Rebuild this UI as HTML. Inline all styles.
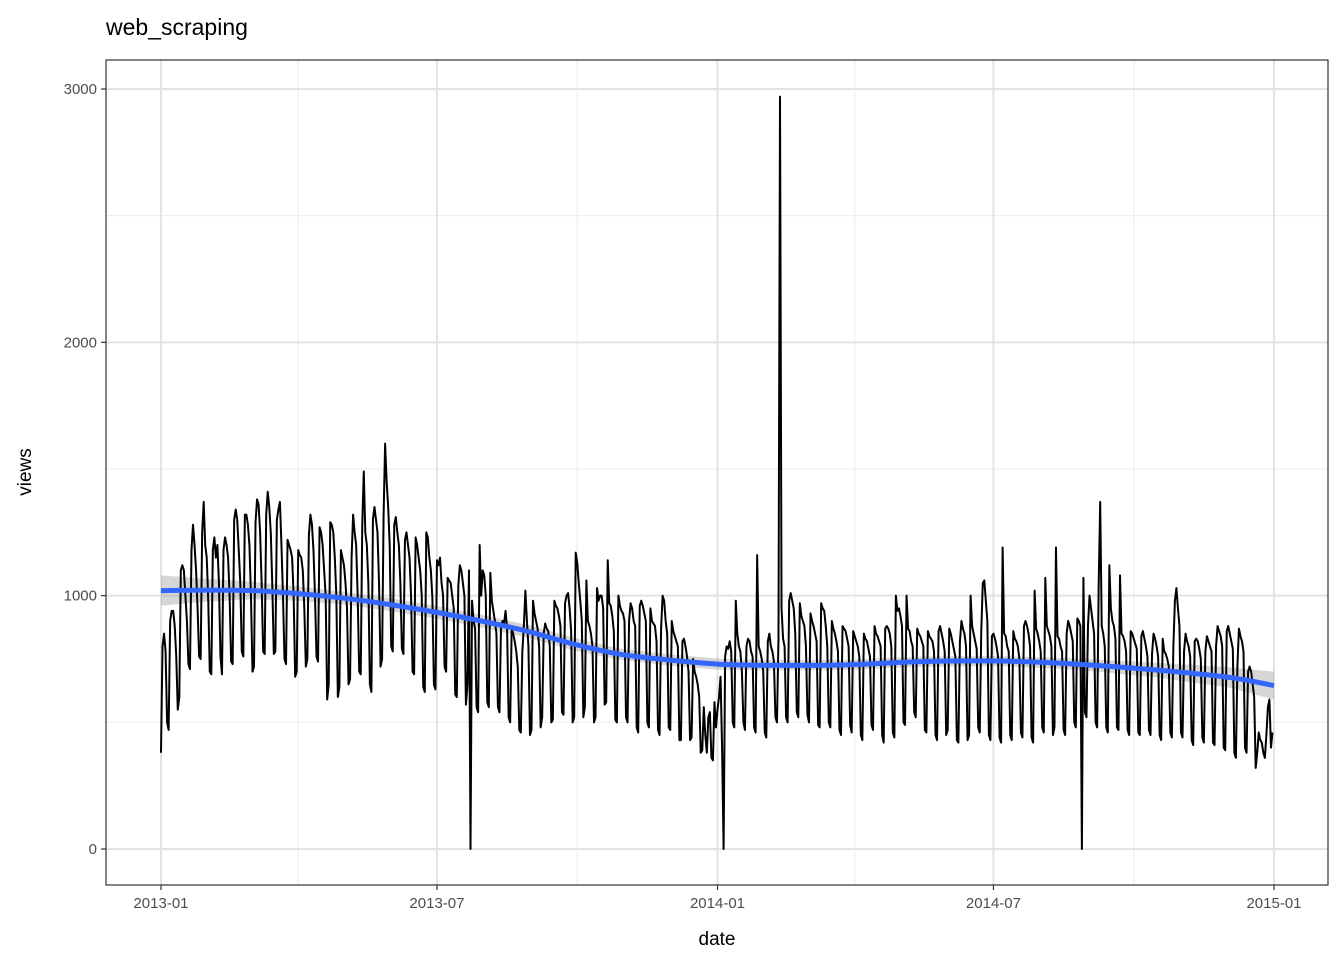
<!DOCTYPE html>
<html><head><meta charset="utf-8">
<style>
body{margin:0;background:#fff;width:1344px;height:960px;overflow:hidden;font-family:"Liberation Sans",Arial,sans-serif}
</style></head>
<body>
<svg id="chart" width="1344" height="960" xmlns="http://www.w3.org/2000/svg">
<text x="106" y="35" font-size="23" fill="#000">web_scraping</text>
<text x="717" y="945" font-size="19" text-anchor="middle" fill="#000">date</text>
<text transform="translate(31,472) rotate(-90)" font-size="19" text-anchor="middle" fill="#000">views</text>
<g id="grid"></g>
<g id="band"></g>
<g id="series"></g>
<g id="smooth"></g>
<rect x="106" y="60" width="1222" height="825" fill="none" stroke="#333" stroke-width="1.2"/>
<g id="axes"></g>
</svg>
<script>
const views = [
380,800,850,780,500,470,900,
940,940,880,760,550,600,1100,
1120,1100,1000,900,730,710,1180,
1280,1200,1100,950,760,750,1250,
1370,1200,1150,980,700,690,1180,
1230,1150,1200,1050,760,690,1180,
1230,1200,1150,1000,740,730,1300,
1340,1300,1180,1050,780,760,1320,
1320,1280,1200,1000,700,720,1290,
1380,1360,1250,1050,780,770,1320,
1410,1350,1250,1040,770,780,1300,
1340,1370,1200,1000,750,730,1220,
1200,1180,1150,1000,680,700,1180,
1160,1150,1100,950,720,750,1240,
1320,1280,1180,1000,760,740,1270,
1250,1200,1100,1000,590,650,1290,
1280,1250,1150,1000,600,640,1180,
1150,1120,1050,950,650,670,1150,
1320,1250,1200,1000,700,690,1280,
1490,1250,1200,1050,650,620,1300,
1350,1300,1250,1050,720,750,1320,
1600,1450,1350,1200,800,780,1280,
1310,1250,1200,1050,790,770,1220,
1250,1200,1150,1000,700,690,1230,
1200,1150,1100,1000,640,620,1250,
1230,1150,1100,990,650,630,1140,
1120,1150,1050,1000,720,700,1070,
1060,1050,1000,950,610,600,1040,
1120,1100,1050,1000,570,650,1100,
0,980,900,870,560,540,1200,
1000,1100,1080,1000,580,560,1090,
980,940,900,850,560,540,880,
900,890,940,870,520,500,870,
850,820,780,720,470,460,780,
880,1020,900,800,450,470,980,
930,900,870,800,480,520,850,
890,870,860,800,500,510,980,
960,950,920,880,540,530,970,
1000,1010,950,860,500,520,1170,
1130,1050,980,900,520,560,1060,
900,880,850,800,500,520,1030,
980,1000,1000,950,570,580,1140,
970,960,920,860,510,500,1000,
960,940,930,900,520,500,900,
970,950,900,880,480,460,960,
980,960,930,900,500,480,950,
900,890,880,820,470,450,870,
1000,980,900,850,480,470,900,
860,840,820,800,430,430,820,
830,800,760,700,430,440,750,
700,680,650,600,380,390,560,
450,380,520,540,360,350,580,
480,550,600,680,400,0,760,
800,790,820,780,500,480,980,
850,800,780,700,500,470,800,
830,820,780,760,480,460,1160,
800,780,750,700,460,440,820,
850,800,780,740,520,500,830,
2970,950,830,800,520,500,980,
1010,980,950,850,540,520,970,
920,900,880,800,530,500,930,
900,880,850,820,490,480,970,
950,940,880,800,500,480,900,
870,850,820,780,470,450,880,
870,860,830,800,490,460,860,
840,820,800,760,450,430,850,
830,820,790,760,490,470,880,
850,840,820,800,450,420,870,
880,870,850,800,460,440,1000,
940,950,920,880,500,490,1000,
870,860,820,800,540,520,870,
850,840,820,800,470,460,860,
840,830,820,780,450,430,860,
880,850,820,780,450,470,870,
850,820,790,760,430,420,820,
900,870,850,800,430,450,1000,
880,850,820,790,480,460,860,
1050,1060,980,900,450,430,840,
850,830,800,760,440,420,1190,
850,840,800,780,450,430,860,
830,820,800,750,460,440,880,
900,880,850,800,440,420,1020,
870,850,820,780,480,460,1070,
880,860,840,800,450,480,1190,
840,830,800,780,470,450,850,
900,880,850,820,500,480,910,
900,880,0,1070,540,520,880,
1000,950,900,850,500,480,1040,
1370,880,850,800,480,460,1120,
950,900,880,830,480,470,1080,
850,840,820,780,470,450,860,
850,830,810,790,460,450,840,
860,830,800,760,470,450,770,
850,830,800,760,450,430,830,
780,770,750,720,460,440,800,
980,1030,950,880,460,440,780,
850,820,800,760,430,410,820,
830,820,790,750,440,420,780,
840,820,800,780,420,410,800,
880,860,840,800,400,390,860,
880,850,820,790,380,360,720,
870,840,820,780,400,380,700,
720,700,650,600,320,380,460,
430,420,380,360,450,560,590,400,460
];
const smoothDays = [0,30,60,90,120,150,180,210,240,270,300,330,365,400,450,500,550,600,650,700,730];
const smoothVals = [1020,1022,1020,1008,990,965,935,900,860,810,770,748,730,725,727,740,742,730,708,678,645];
const bandHalf = [60,45,35,28,25,25,25,25,25,25,22,22,22,20,20,20,20,22,28,40,55];
const yTicks = [0,1000,2000,3000];
const yMinor = [500,1500,2500];
const xTickDays = [0,181,365,546,730];
const xTickLabels = ["2013-01","2013-07","2014-01","2014-07","2015-01"];
const xMinorDays = [90,273,455,638];

const NS="http://www.w3.org/2000/svg";
const x = d => 161 + d*(1274-161)/730;
const y = v => 849 - v*(849-89)/3000;
function mk(tag,attrs,parent){const e=document.createElementNS(NS,tag);for(const k in attrs)e.setAttribute(k,attrs[k]);parent.appendChild(e);return e;}
const grid=document.getElementById('grid'), axes=document.getElementById('axes');
yMinor.forEach(v=>{const l=mk('line',{x1:106,x2:1328,y1:y(v),y2:y(v),stroke:'#ebebeb','stroke-width':1},grid);

});
xMinorDays.forEach(d=>{const l=mk('line',{x1:x(d),x2:x(d),y1:60,y2:885,stroke:'#ebebeb','stroke-width':1},grid);

});
yTicks.forEach(v=>{const l=mk('line',{x1:106,x2:1328,y1:y(v),y2:y(v),stroke:'#e3e3e3','stroke-width':2},grid);


const t=mk('line',{x1:101,x2:106,y1:y(v),y2:y(v),stroke:'#333','stroke-width':1.2},axes);


const tx=mk('text',{x:97,y:y(v)+5,'font-size':15,'text-anchor':'end',fill:'#4d4d4d'},axes);tx.textContent=v;

});
xTickDays.forEach((d,i)=>{const l=mk('line',{x1:x(d),x2:x(d),y1:60,y2:885,stroke:'#e3e3e3','stroke-width':2},grid);


const t=mk('line',{x1:x(d),x2:x(d),y1:885,y2:890,stroke:'#333','stroke-width':1.2},axes);


const tx=mk('text',{x:x(d),y:908,'font-size':15,'text-anchor':'middle',fill:'#4d4d4d'},axes);tx.textContent=xTickLabels[i];

});
let up=smoothDays.map((d,i)=>x(d)+','+y(smoothVals[i]+bandHalf[i]));
let dn=smoothDays.map((d,i)=>x(d)+','+y(smoothVals[i]-bandHalf[i])).reverse();
const bp=mk('polygon',{points:up.concat(dn).join(' '),fill:'#999','fill-opacity':0.4},document.getElementById('band'));


const sp=mk('polyline',{points:views.map((v,i)=>x(i)+','+y(v)).join(' '),fill:'none',stroke:'#000','stroke-width':2,'stroke-linejoin':'round'},document.getElementById('series'));


let pts=smoothDays.map((d,i)=>[x(d),y(smoothVals[i])]);
let dpath='M'+pts[0][0]+','+pts[0][1];
for(let i=0;i<pts.length-1;i++){const p0=pts[Math.max(i-1,0)],p1=pts[i],p2=pts[i+1],p3=pts[Math.min(i+2,pts.length-1)];
dpath+=' C'+(p1[0]+(p2[0]-p0[0])/6)+','+(p1[1]+(p2[1]-p0[1])/6)+' '+(p2[0]-(p3[0]-p1[0])/6)+','+(p2[1]-(p3[1]-p1[1])/6)+' '+p2[0]+','+p2[1];}
const sm=mk('path',{d:dpath,fill:'none',stroke:'#3366ff','stroke-width':5},document.getElementById('smooth'));


</script>
</body></html>
